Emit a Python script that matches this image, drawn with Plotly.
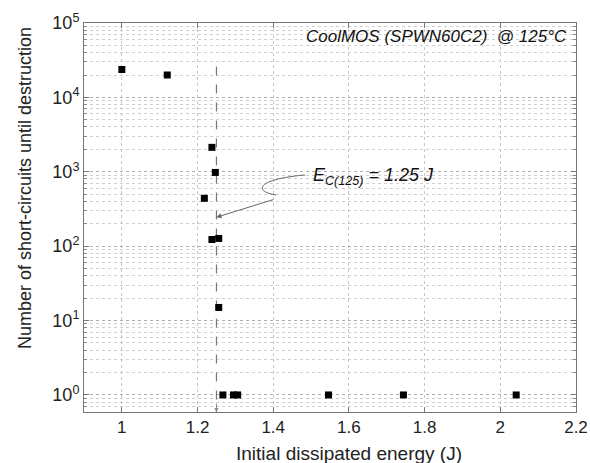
import plotly.graph_objects as go
import numpy as np

# Data
energy = [1.00, 1.12, 1.238, 1.247, 1.218, 1.238, 1.256, 1.256, 1.267, 1.295, 1.306, 1.546, 1.744, 2.042]
cycles = [23700, 20000, 2130, 980, 440, 123, 127, 15, 1, 1, 1, 1, 1, 1]

ec_value = 1.25
ec_line_y = [26000, 0.59]

x_ticks = [1, 1.2, 1.4, 1.6, 1.8, 2, 2.2]
x_ticklabels = ["1", "1.2", "1.4", "1.6", "1.8", "2", "2.2"]
y_ticks = [1, 10, 100, 1000, 10000, 100000]
y_ticklabels = ["10<sup>0</sup>", "10<sup>1</sup>", "10<sup>2</sup>", "10<sup>3</sup>", "10<sup>4</sup>", "10<sup>5</sup>"]

FONT = "Liberation Sans, Arial, sans-serif"
fig = go.Figure()

fig.add_trace(go.Scatter(
    x=[ec_value, ec_value], y=ec_line_y, mode="lines",
    line=dict(color="#777777", width=1.2, dash="dash"), showlegend=False, hoverinfo="skip"))

fig.add_trace(go.Scatter(
    x=energy, y=cycles, mode="markers",
    marker=dict(symbol="square", size=7, color="black"), showlegend=False))

# squiggle of the arrow (paper coords)
L, R, T, B = 84, 14, 23, 51
W, H = 590 - L - R, 463 - T - B
def px(x, y):
    return (x - L) / W, (463 - B - y) / H

pts = [px(305, 175), px(258, 179), px(252, 191), px(276, 195)]
path = "M {:.4f},{:.4f} C {:.4f},{:.4f} {:.4f},{:.4f} {:.4f},{:.4f}".format(*[c for p in pts for c in p])
fig.add_shape(type="path", xref="paper", yref="paper", path=path,
              line=dict(color="#666666", width=1))

fig.add_annotation(x=ec_value, y=np.log10(245), xref="x", yref="y",
                   ax=58, ay=-18, axref="pixel", ayref="pixel",
                   text="", showarrow=True, arrowhead=2, arrowsize=1, arrowwidth=1,
                   arrowcolor="#666666")

# small arrowhead at the bottom of the dashed line
fig.add_annotation(x=ec_value, y=np.log10(ec_line_y[1]), xref="x", yref="y",
                   ax=0, ay=-10, axref="pixel", ayref="pixel",
                   text="", showarrow=True, arrowhead=2, arrowsize=0.8, arrowwidth=1,
                   arrowcolor="#888888")

fig.add_annotation(x=px(311, 0)[0], y=px(0, 176)[1], xref="paper", yref="paper",
                   xanchor="left", yanchor="middle", showarrow=False,
                   text="<i>E<sub>C(125)</sub> = 1.25 J</i>",
                   font=dict(family=FONT, size=18, color="#111111"))

fig.add_annotation(x=px(569, 0)[0], y=px(0, 36)[1], xref="paper", yref="paper",
                   xanchor="right", yanchor="middle", showarrow=False,
                   text="<i>CoolMOS (SPWN60C2)  @ 125°C</i>",
                   font=dict(family=FONT, size=17, color="#111111"))

# axis titles
fig.add_annotation(x=px(349, 0)[0], y=px(0, 453)[1], xref="paper", yref="paper",
                   xanchor="center", yanchor="middle", showarrow=False,
                   text="Initial dissipated energy (J)", borderpad=0,
                   font=dict(family=FONT, size=19, color="#222222"))
fig.add_annotation(x=px(25, 0)[0], y=px(0, 188)[1], xref="paper", yref="paper",
                   xanchor="center", yanchor="middle", showarrow=False, textangle=-90,
                   text="Number of short-circuits until destruction",
                   font=dict(family=FONT, size=18, color="#222222"))

fig.update_layout(
    width=590, height=463,
    margin=dict(l=L, r=R, t=T, b=B),
    paper_bgcolor="white", plot_bgcolor="white",
    font=dict(family=FONT, size=17, color="#222222"),
    xaxis=dict(
        range=[0.9, 2.2], tickvals=x_ticks, ticktext=x_ticklabels,
        automargin=False, tickfont=dict(size=17),
        showline=True, linecolor="#777777", linewidth=1, mirror="ticks",
        ticks="inside", ticklen=5, tickcolor="#777777",
        showgrid=True, gridcolor="#c8c8c8", griddash="dot", gridwidth=1,
        zeroline=False,
    ),
    yaxis=dict(
        type="log", range=[np.log10(0.59), 5],
        tickvals=y_ticks, ticktext=y_ticklabels,
        automargin=False, tickfont=dict(size=18),
        showline=True, linecolor="#777777", linewidth=1, mirror="ticks",
        ticks="inside", ticklen=5, tickcolor="#777777",
        showgrid=True, gridcolor="#b0b0b0", griddash="dot", gridwidth=1,
        zeroline=False,
        minor=dict(showgrid=True, gridcolor="#cfcfcf", griddash="dot",
                   ticks="inside", ticklen=3, tickcolor="#888888",
                   tickvals=[m * 10 ** d for d in range(-1, 5) for m in range(2, 10)]),
    ),
)

fig.write_html("out.html")
